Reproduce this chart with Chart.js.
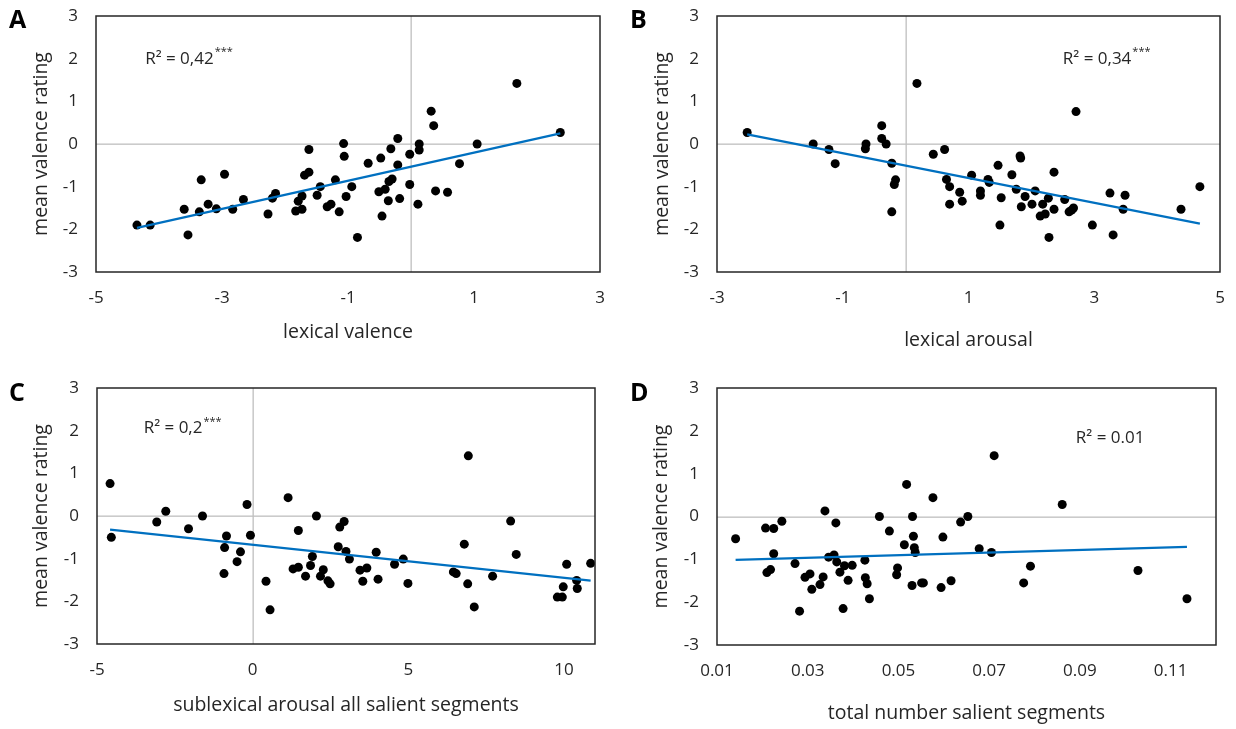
<!DOCTYPE html>
<html lang="en">
<head>
<meta charset="UTF-8">
<title>Valence scatter panels</title>
<script src="https://cdn.jsdelivr.net/npm/chart.js"></script>
<style>
  body { margin: 0; background: #fff; }
  .wrap { position: relative; width: 1236px; height: 729px; }
  canvas { position: absolute; }
</style>
</head>
<body>
<div class="wrap">
  <canvas id="panelA" width="618" height="364" style="left:0;top:0"></canvas>
  <canvas id="panelB" width="618" height="364" style="left:618px;top:0"></canvas>
  <canvas id="panelC" width="618" height="365" style="left:0;top:364px"></canvas>
  <canvas id="panelD" width="618" height="365" style="left:618px;top:364px"></canvas>
</div>
<script>
// values
const yTicks = [-3, -2, -1, 0, 1, 2, 3];

// A: lexical valence
const aX = [-4.35,-4.14,-3.54,-3.60,-3.36,-3.33,-3.22,-3.09,-2.96,-2.83,-2.66,-2.27,-2.20,-2.15,-1.83,-1.73,-1.79,-1.73,-1.69,-1.62,
  -1.62,-1.49,-1.44,-1.33,-1.27,-1.20,-1.14,-1.07,-1.06,-1.03,-0.94,-0.85,-0.68,-0.48,-0.32,-0.21,-0.21,-0.51,-0.41,-0.35,
  -0.30,-0.36,-0.46,-0.18,-0.02,-0.02,0.11,0.13,0.13,0.32,0.36,0.39,0.58,0.77,1.05,1.68,2.37];
const aY = [-1.90,-1.90,-2.13,-1.53,-1.59,-0.84,-1.41,-1.52,-0.71,-1.53,-1.30,-1.64,-1.27,-1.16,-1.57,-1.53,-1.34,-1.22,-0.73,-0.66,
  -0.13,-1.20,-1.00,-1.47,-1.41,-0.84,-1.59,0.01,-0.29,-1.23,-1.00,-2.19,-0.45,-0.33,-0.11,0.13,-0.49,-1.12,-1.06,-0.88,
  -0.82,-1.33,-1.69,-1.28,-0.24,-0.95,-1.41,0.00,-0.14,0.77,0.43,-1.10,-1.13,-0.46,0.00,1.42,0.27];
const aTicks = [-5, -3, -1, 1, 3];

// B: lexical arousal
const bX = [-2.52,-1.47,-1.22,-1.12,-0.63,-0.64,-0.38,-0.38,-0.31,-0.22,-0.16,-0.18,-0.22,0.18,0.44,0.62,0.65,0.70,0.70,0.86,
  0.90,1.05,1.19,1.19,1.31,1.33,1.47,1.52,1.50,1.69,1.76,1.82,1.83,1.90,1.84,2.01,2.06,2.14,2.22,2.18,
  2.27,2.28,2.36,2.36,2.53,2.60,2.64,2.67,2.71,2.97,3.25,3.30,3.49,3.46,4.38,4.68];
const bY = [0.27,0.00,-0.13,-0.46,0.00,-0.11,0.43,0.13,0.00,-0.45,-0.84,-0.95,-1.59,1.42,-0.24,-0.13,-0.83,-1.00,-1.41,-1.13,
  -1.34,-0.73,-1.10,-1.20,-0.83,-0.90,-0.50,-1.26,-1.90,-0.72,-1.06,-0.28,-0.33,-1.23,-1.47,-1.41,-1.10,-1.69,-1.64,-1.41,
  -1.27,-2.19,-0.66,-1.53,-1.30,-1.59,-1.55,-1.50,0.76,-1.90,-1.15,-2.13,-1.20,-1.53,-1.53,-1.00];
const bTicks = [-3, -1, 1, 3, 5];

// C: sublexical arousal all salient segments
const cX = [-4.58,-4.54,-3.08,-2.79,-2.06,-1.61,-0.84,-0.90,-0.92,-0.39,-0.50,-0.18,-0.07,0.43,0.56,1.14,1.30,1.47,1.47,1.70,
  1.86,1.92,2.05,2.27,2.18,2.42,2.49,2.80,2.94,2.75,3.00,3.11,3.45,3.67,3.54,3.97,4.03,4.56,4.84,4.99,
  6.45,6.54,6.80,6.93,6.91,7.12,7.71,8.29,8.47,9.79,9.95,9.98,10.09,10.41,10.43,10.86];
const cY = [0.76,-0.50,-0.14,0.11,-0.30,0.00,-0.47,-0.74,-1.35,-0.84,-1.07,0.27,-0.45,-1.53,-2.20,0.43,-1.24,-1.20,-0.34,-1.41,
  -1.16,-0.95,0.00,-1.26,-1.41,-1.52,-1.59,-0.26,-0.13,-0.72,-0.83,-1.01,-1.27,-1.22,-1.53,-0.85,-1.48,-1.13,-1.01,-1.58,
  -1.31,-1.35,-0.66,1.41,-1.59,-2.13,-1.41,-0.12,-0.90,-1.90,-1.90,-1.66,-1.13,-1.51,-1.70,-1.11];
const cTicks = [-5, 0, 5, 10];

// D: total number salient segments
const dX = [0.0141,0.0207,0.0225,0.0243,0.0225,0.0210,0.0218,0.0272,0.0282,0.0294,0.0305,0.0309,0.0327,0.0334,0.0338,0.0362,
  0.0346,0.0358,0.0364,0.0371,0.0381,0.0398,0.0389,0.0378,0.0426,0.0427,0.0431,0.0436,0.0458,0.0480,0.0498,0.0496,
  0.0518,0.0513,0.0531,0.0533,0.0535,0.0537,0.0530,0.0551,0.0555,0.0576,0.0598,0.0594,0.0616,0.0637,0.0653,
  0.0678,0.0705,0.0711,0.0791,0.0776,0.0861,0.1028,0.1136];
const dY = [-0.52,-0.27,-0.28,-0.11,-0.87,-1.31,-1.24,-1.10,-2.21,-1.42,-1.34,-1.70,-1.59,-1.41,0.13,-0.15,
  -0.95,-0.90,-1.06,-1.30,-1.15,-1.14,-1.49,-2.15,-1.02,-1.43,-1.57,-1.92,0.00,-0.34,-1.20,-1.36,
  0.75,-0.66,0.00,-0.46,-0.73,-0.84,-1.61,-1.55,-1.55,0.44,-0.48,-1.66,-1.50,-0.13,0.00,
  -0.75,-0.84,1.42,-1.16,-1.55,0.28,-1.26,-1.92];
const dTicks = [0.01, 0.03, 0.05, 0.07, 0.09, 0.11];

const FONT = '"Open Sans", "Noto Sans", sans-serif';
const TEXT = '#262626';

// least squares trendline over the data range
function trend(xs, ys) {
  const n = xs.length;
  const mx = xs.reduce((s, v) => s + v, 0) / n;
  const my = ys.reduce((s, v) => s + v, 0) / n;
  let sxy = 0, sxx = 0;
  for (let i = 0; i < n; i++) { sxy += (xs[i] - mx) * (ys[i] - my); sxx += (xs[i] - mx) ** 2; }
  const b = sxy / sxx, a = my - b * mx;
  const x0 = Math.min(...xs), x1 = Math.max(...xs);
  return [{ x: x0, y: a + b * x0 }, { x: x1, y: a + b * x1 }];
}

const panelDeco = {
  id: 'panelDeco',
  // zero reference lines, like the Excel axes crossing at 0
  beforeDatasetsDraw(chart) {
    const { ctx, chartArea: a } = chart;
    const xs = chart.scales.x, ys = chart.scales.y;
    ctx.save();
    ctx.fillStyle = '#bfbfbf';
    if (xs.min < 0 && xs.max > 0) {
      const px = Math.round(xs.getPixelForValue(0));
      ctx.fillRect(px - 0.5, a.top, 1.3, a.bottom - a.top);
    }
    if (ys.min < 0 && ys.max > 0) {
      const py = Math.round(ys.getPixelForValue(0));
      ctx.fillRect(a.left, py - 0.5, a.right - a.left, 1.3);
    }
    ctx.restore();
  },
  afterDraw(chart, args, o) {
    const { ctx, chartArea: a } = chart;
    ctx.save();
    ctx.strokeStyle = '#262626';
    ctx.lineWidth = 1.5;
    ctx.strokeRect(a.left, a.top, a.right - a.left, a.bottom - a.top);

    ctx.fillStyle = '#000';
    ctx.textAlign = 'left';
    ctx.textBaseline = 'middle';
    ctx.font = 'bold 25px ' + FONT;
    ctx.fillText(o.letter, o.letterX, o.letterY);

    const px = chart.scales.x.getPixelForValue(o.r2x);
    const py = chart.scales.y.getPixelForValue(o.r2y);
    ctx.fillStyle = TEXT;
    ctx.font = '17px ' + FONT;
    ctx.fillText(o.r2, px, py);
    if (o.stars) {
      const w = ctx.measureText(o.r2).width;
      ctx.font = '11px ' + FONT;
      ctx.fillText('***', px + w + 1, py - 7);
    }
    ctx.restore();
  }
};

function makePanel(id, p) {
  const pts = p.xs.map((x, i) => ({ x: x, y: p.ys[i] }));
  const H = document.getElementById(id).height;
  return new Chart(document.getElementById(id), {
    type: 'scatter',
    data: {
      datasets: [
        { type: 'line', data: trend(p.xs, p.ys), borderColor: '#0070C0', borderWidth: 2.25,
          pointRadius: 0, fill: false },
        { data: pts, backgroundColor: '#000', borderWidth: 0, pointRadius: 4.5 }
      ]
    },
    options: {
      responsive: false,
      animation: false,
      devicePixelRatio: 1,
      layout: { padding: { top: p.top, right: p.right, left: 0, bottom: 0 } },
      plugins: {
        legend: { display: false },
        tooltip: { enabled: false },
        panelDeco: p.deco
      },
      scales: {
        x: {
          type: 'linear', min: p.xMin, max: p.xMax,
          afterBuildTicks: s => { s.ticks = p.xTicks.map(v => ({ value: v })); },
          afterFit: s => { s.height = H - p.bottom; s.paddingLeft = 0; s.paddingRight = 0; },
          border: { display: false },
          grid: { display: false, drawTicks: false },
          ticks: { padding: 16, color: TEXT, font: { family: FONT, size: 17 },
                   callback: v => p.fmt ? p.fmt(v) : String(v) },
          title: { display: true, text: p.xTitle, color: TEXT, font: { family: FONT, size: 19.5 },
                   padding: { top: 0, bottom: p.xTitlePad } }
        },
        y: {
          type: 'linear', min: -3, max: 3,
          afterBuildTicks: s => { s.ticks = yTicks.map(v => ({ value: v })); },
          afterFit: s => { s.width = p.left; s.paddingTop = 0; s.paddingBottom = 0; },
          border: { display: false },
          grid: { display: false, drawTicks: false },
          ticks: { padding: 18, color: TEXT, font: { family: FONT, size: 17 },
                   callback: v => String(v) },
          title: { display: true, text: 'mean valence rating', color: TEXT, font: { family: FONT, size: 19.5 },
                   padding: { top: p.yTitlePad, bottom: 0 } }
        }
      }
    },
    plugins: [panelDeco]
  });
}

makePanel('panelA', {
  xs: aX, ys: aY, xMin: -5, xMax: 3, xTicks: aTicks, xTitle: 'lexical valence',
  left: 96, right: 18, top: 16, bottom: 272, xTitlePad: 20, yTitlePad: 30,
  deco: { letter: 'A', letterX: 9, letterY: 21, r2: 'R² = 0,42', stars: true, r2x: -4.22, r2y: 2 }
});
makePanel('panelB', {
  xs: bX, ys: bY, xMin: -3, xMax: 5, xTicks: bTicks, xTitle: 'lexical arousal',
  left: 99, right: 16, top: 16, bottom: 272, xTitlePad: 12, yTitlePad: 33,
  deco: { letter: 'B', letterX: 12, letterY: 21, r2: 'R² = 0,34', stars: true, r2x: 2.5, r2y: 2 }
});
makePanel('panelC', {
  xs: cX, ys: cY, xMin: -5, xMax: 11, xTicks: cTicks, xTitle: 'sublexical arousal all salient segments',
  left: 97, right: 23, top: 24, bottom: 280, xTitlePad: 12, yTitlePad: 30,
  deco: { letter: 'C', letterX: 9, letterY: 30, r2: 'R² = 0,2', stars: true, r2x: -3.5, r2y: 2.05 }
});
makePanel('panelD', {
  xs: dX, ys: dY, xMin: 0.01, xMax: 0.12, xTicks: dTicks, xTitle: 'total number salient segments',
  left: 99, right: 20, top: 24, bottom: 281, xTitlePad: 4, yTitlePad: 32, fmt: v => v.toFixed(2),
  deco: { letter: 'D', letterX: 12, letterY: 30, r2: 'R² = 0.01', stars: false, r2x: 0.0891, r2y: 1.84 }
});
</script>
</body>
</html>
